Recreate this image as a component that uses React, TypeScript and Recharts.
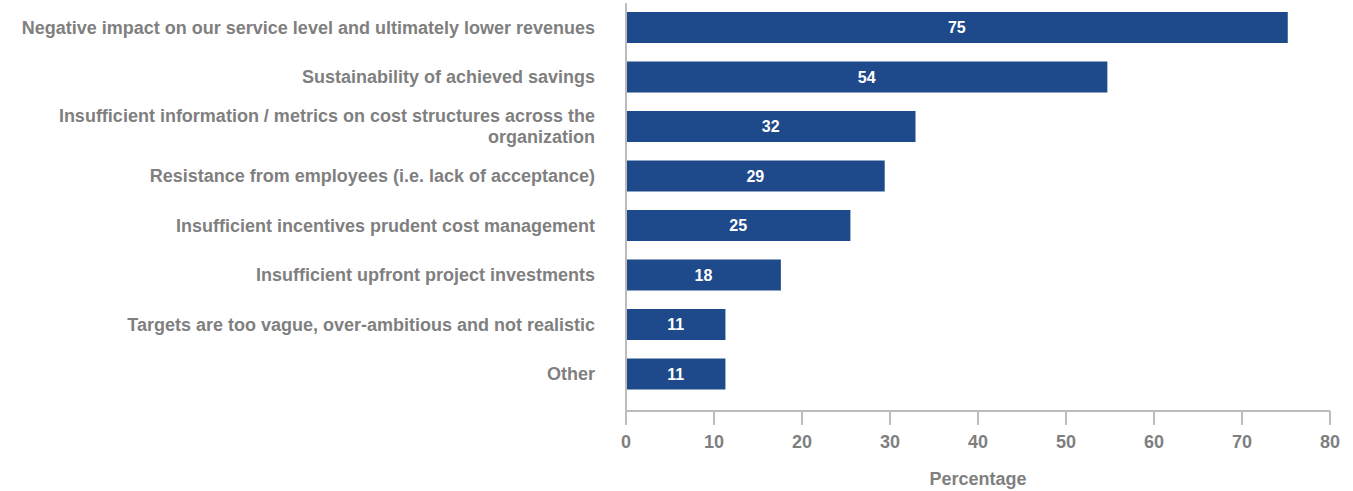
import React from 'react';
import { BarChart, Bar, XAxis, YAxis, LabelList } from 'recharts';

const categories = [
  'Negative impact on our service level and ultimately lower revenues',
  'Sustainability of achieved savings',
  'Insufficient information / metrics on cost structures across the organization',
  'Resistance from employees (i.e. lack of acceptance)',
  'Insufficient incentives prudent cost management',
  'Insufficient upfront project investments',
  'Targets are too vague, over-ambitious and not realistic',
  'Other',
];

// bar lengths
const values = [75.2, 54.7, 32.9, 29.4, 25.5, 17.6, 11.3, 11.3];
// printed labels
const valueLabels = ['75', '54', '32', '29', '25', '18', '11', '11'];

const xTicks = [0, 10, 20, 30, 40, 50, 60, 70, 80];

const data = categories.map((name, i) => ({ name, value: values[i], label: valueLabels[i] }));

const font = '"Liberation Sans", Arial, sans-serif';
const grey = '#7f7f7f';

// wrap long labels at the last space that keeps a line within maxChars
const wrap = (s: string, maxChars = 66) => {
  const lines: string[] = [];
  let rest = s;
  while (rest.length > maxChars) {
    const cut = rest.lastIndexOf(' ', maxChars);
    lines.push(rest.slice(0, cut));
    rest = rest.slice(cut + 1);
  }
  lines.push(rest);
  return lines;
};

const CategoryTick = (props: any) => {
  const { y, payload } = props;
  const lines = wrap(payload.value);
  const lh = 21;
  const y0 = y - ((lines.length - 1) * lh) / 2;
  return (
    <text
      x={595}
      y={y0}
      textAnchor="end"
      dominantBaseline="central"
      style={{ fontFamily: font, fontSize: 18, fontWeight: 700, fill: grey }}
    >
      {lines.map((l, i) => (
        <tspan key={i} x={595} y={y0 + i * lh}>
          {l}
        </tspan>
      ))}
    </text>
  );
};

export default function App() {
  return (
    <div style={{ position: 'absolute', left: 0, top: 0, background: '#fff' }}>
      <BarChart
        width={1353}
        height={491}
        data={data}
        layout="vertical"
        margin={{ top: 3, right: 23, bottom: 0, left: 0 }}
      >
        <XAxis
          type="number"
          domain={[0, 80]}
          ticks={xTicks}
          height={80}
          axisLine={{ stroke: '#bcbcbc', strokeWidth: 2 }}
          tickLine={{ stroke: '#bcbcbc', strokeWidth: 2 }}
          tickSize={14}
          tickMargin={10}
          tick={{ fill: grey, fontFamily: font, fontSize: 18, fontWeight: 700 }}
          label={{
            value: 'Percentage',
            position: 'insideBottom',
            offset: 6,
            fill: grey,
            style: { fontFamily: font, fontSize: 18, fontWeight: 700 },
          }}
        />
        <YAxis
          type="category"
          dataKey="name"
          width={626}
          padding={{ top: 0, bottom: 12 }}
          axisLine={{ stroke: '#bcbcbc', strokeWidth: 2 }}
          tickLine={false}
          interval={0}
          tick={<CategoryTick />}
        />
        <Bar dataKey="value" fill="#1e4a8b" barSize={31} isAnimationActive={false}>
          <LabelList
            dataKey="label"
            position="center"
            fill="#ffffff"
            style={{ fontFamily: font, fontSize: 16, fontWeight: 700 }}
          />
        </Bar>
      </BarChart>
    </div>
  );
}
